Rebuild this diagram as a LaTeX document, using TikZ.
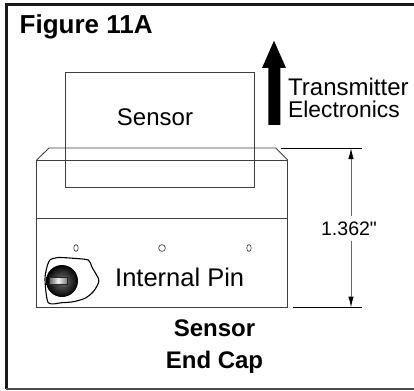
\documentclass[tikz,border=0pt]{standalone}
\usepackage{fontspec}
\setmainfont{Liberation Sans}
\newfontfamily\plainfont{Liberation Sans}
\usetikzlibrary{arrows.meta}
\newcommand{\fsize}[1]{\fontsize{#1}{#1}\selectfont}
\begin{document}
\begin{tikzpicture}[x=1pt,y=-1pt,
  border/.style={line width=2.6pt,draw=black!90},
  outline/.style={line width=0.9pt,draw=black!75},
  dimline/.style={line width=1pt,draw=black!60},
  dimtip/.style={-{Latex[length=11pt,width=5.5pt,black]}},
  extent/.style={line width=0.8pt,draw=black},
  hole/.style={line width=0.6pt,draw=black!80},
  label/.style={anchor=base west,inner sep=0pt,font=\fsize{24}},
  heading/.style={inner sep=0pt,font=\fsize{24}\bfseries}
]
  \useasboundingbox (0,0) rectangle (414,390);
  % frame, open on the right
  \draw[border] (414,4.5) -- (6.3,4.5) -- (6.3,389);
  \draw[line width=1.5pt,draw=black!70] (6.3,389) -- (414,389);
  \node[heading,anchor=base west,font=\fsize{26}\bfseries] (title) at (19.5,34) {Figure 11A};
  % sensor body
  \draw[outline] (65,72) rectangle (254.7,187.7);
  \node[label,anchor=base] (sensor) at (155,126) {Sensor};
  % end cap
  \draw[outline] (36.7,160) -- (49,148) -- (275.7,148) -- (287.7,160);
  \draw[outline] (36.7,160) rectangle (287.7,307.7);
  \draw[outline] (36.7,218) -- (287.7,218);
  \foreach \h in {76,249}
    \draw[hole] (\h,248) circle [x radius=2.2,y radius=3.4];
  \draw[hole] (162,248) circle (3.4);
  % key
  \draw[line width=1.1pt] plot[smooth cycle,tension=0.45] coordinates {(45,280) (46.7,268) (50,260) (58.3,257.5)
    (73.3,258.3) (88.3,260) (91.7,266.7) (98.3,278.3) (98.3,283.3) (93.3,291.7) (85,298.3)
    (73.3,301.7) (61.7,302.7) (48.3,302.7)};
  \shade[inner color=black!55,outer color=black] (62,281) circle (16);
  \shade[left color=black!60,right color=black!50,middle color=black!5,draw=black!85,line width=0.5pt] (49.5,277) rectangle (67,284);
  \node[label,font=\fsize{25.5}] (pin) at (115,286.7) {Internal Pin};
  % arrow to the electronics
  \fill (268.3,125) -- (268.3,68) -- (262,68) -- (274,40.7) -- (286,68) -- (280.3,68) -- (280.3,125) -- cycle;
  \node[label] (trans) at (288,95.7) {Transmitter};
  \node[label,font=\fsize{22.8}] (elec) at (288,118) {Electronics};
  % height of the cap
  \coordinate (dimtop) at (351,148);
  \coordinate (dimbot) at (351,307.5);
  \draw[extent] (281,148) -- (361.7,148);
  \draw[extent] (292.7,307.5) -- (361.7,307.5);
  \node[inner sep=0pt,inner ysep=5pt,font=\fsize{19.5}\plainfont] (dim) at (349,228.5) {1.362"};
  \draw[dimline,dimtip] (dim.north -| dimtop) -- (dimtop);
  \draw[dimline,dimtip] (dim.south -| dimbot) -- (dimbot);
  \node[heading,anchor=base] (capa) at (214.5,336.7) {Sensor};
  \node[heading,anchor=base] (capb) at (214.5,368) {End Cap};
\end{tikzpicture}
\end{document}
